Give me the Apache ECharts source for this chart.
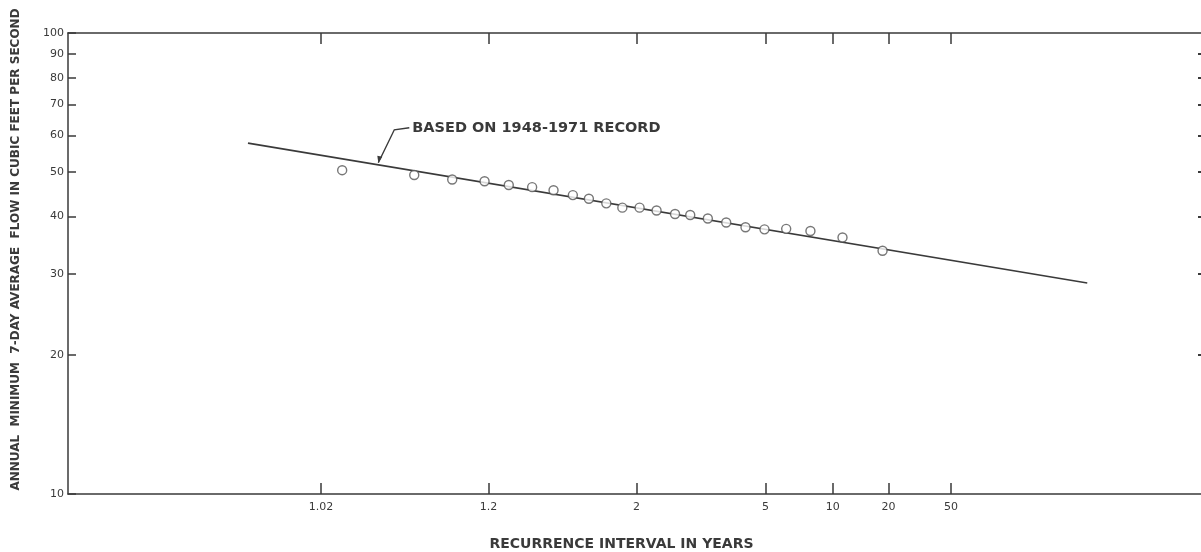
<!DOCTYPE html>
<html lang="en">
<head>
    <meta charset="UTF-8">
    <title>Recurrence interval of annual minimum 7-day flow</title>
    <script src="https://cdn.jsdelivr.net/npm/echarts@6/dist/echarts.min.js"></script>
    <style>
        * { margin: 0; padding: 0; box-sizing: border-box; }
        body { background: #fff; }
        #chart { width: 1201px; height: 552px; }
    </style>
</head>
<body>
    <div id="chart"></div>

    <script>
        // tick labels on the probability (recurrence interval) axis
        const xTickYears = [1.02, 1.2, 2, 5, 10, 20, 50];
        const xTickLabels = ['1.02', '1.2', '2', '5', '10', '20', '50'];
        // flow ticks on the log axis
        const yTickValues = [10, 20, 30, 40, 50, 60, 70, 80, 90, 100];
        const yTickLabels = ['10', '20', '30', '40', '50', '60', '70', '80', '90', '100'];

        // plotted points: recurrence interval (years) and flow (cfs)
        const pointYears = [1.028, 1.079, 1.129, 1.191, 1.253, 1.329, 1.416, 1.512, 1.607, 1.729, 1.862, 2.032,
                            2.232, 2.495, 2.755, 3.117, 3.583, 4.195, 4.958, 6.09, 7.81, 11.2, 18.5];
        const pointFlow = [50.4, 49.2, 48.1, 47.7, 46.8, 46.3, 45.6, 44.5, 43.7, 42.7, 41.8, 41.8,
                           41.2, 40.5, 40.3, 39.6, 38.8, 37.9, 37.5, 37.6, 37.2, 36.0, 33.7];

        // fitted line (based on 1948-1971 record)
        const lineYears = [1.0056, 617];
        const lineFlow = [57.7, 28.7];

        // where the note's leader touches the line
        const noteYears = 1.048;
        const noteFlow = 52.3;
        const noteText = 'BASED ON 1948-1971 RECORD';

        // inverse normal cdf (Acklam) - the paper is a normal probability scale
        function normInv(p) {
            const a = [-3.969683028665376e+01, 2.209460984245205e+02, -2.759285104469687e+02, 1.383577518672690e+02, -3.066479806614716e+01, 2.506628277459239e+00];
            const b = [-5.447609879822406e+01, 1.615858368580409e+02, -1.556989798598866e+02, 6.680131188771972e+01, -1.328068155288572e+01];
            const c = [-7.784894002430293e-03, -3.223964580411365e-01, -2.400758277161838e+00, -2.549732539343734e+00, 4.374664141464968e+00, 2.938163982698783e+00];
            const d = [7.784695709041462e-03, 3.224671290700398e-01, 2.445134137142996e+00, 3.754408661907416e+00];
            const pl = 0.02425;
            let q, r;
            if (p < pl) {
                q = Math.sqrt(-2 * Math.log(p));
                return (((((c[0] * q + c[1]) * q + c[2]) * q + c[3]) * q + c[4]) * q + c[5]) / ((((d[0] * q + d[1]) * q + d[2]) * q + d[3]) * q + 1);
            }
            if (p > 1 - pl) {
                q = Math.sqrt(-2 * Math.log(1 - p));
                return -(((((c[0] * q + c[1]) * q + c[2]) * q + c[3]) * q + c[4]) * q + c[5]) / ((((d[0] * q + d[1]) * q + d[2]) * q + d[3]) * q + 1);
            }
            q = p - 0.5;
            r = q * q;
            return (((((a[0] * r + a[1]) * r + a[2]) * r + a[3]) * r + a[4]) * r + a[5]) * q / (((((b[0] * r + b[1]) * r + b[2]) * r + b[3]) * r + b[4]) * r + 1);
        }
        const toX = t => normInv(1 - 1 / t);
        const toY = q => Math.log10(q);

        const xTickPos = xTickYears.map(toX);
        const yTickPos = yTickValues.map(toY);

        function xLabel(v) {
            for (let i = 0; i < xTickPos.length; i++) {
                if (Math.abs(xTickPos[i] - v) < 1e-6) return xTickLabels[i];
            }
            return '';
        }
        function yLabel(v) {
            for (let i = 0; i < yTickPos.length; i++) {
                if (Math.abs(yTickPos[i] - v) < 1e-6) return yTickLabels[i];
            }
            return '';
        }

        const ink = '#3a3a3a';
        const font = '"DejaVu Sans", sans-serif';

        const chart = echarts.init(document.getElementById('chart'));
        chart.setOption({
            animation: false,
            backgroundColor: '#fff',
            grid: { left: 68, top: 33, right: -2, bottom: 58, outerBoundsMode: 'none', containLabel: false },
            xAxis: [
                {
                    type: 'value',
                    position: 'bottom',
                    min: -3.714,
                    max: 3.70,
                    name: 'RECURRENCE INTERVAL IN YEARS',
                    nameLocation: 'middle',
                    nameGap: 43,
                    nameTextStyle: { color: ink, fontFamily: font, fontSize: 14, fontWeight: 'bold', padding: [0, 28, 0, 0] },
                    axisLine: { onZero: false, lineStyle: { color: ink, width: 1.5 } },
                    axisTick: { inside: true, length: 11, customValues: xTickPos, lineStyle: { color: ink, width: 1.5 } },
                    axisLabel: { customValues: xTickPos, formatter: xLabel, margin: 8, color: ink, fontFamily: font, fontSize: 11 },
                    splitLine: { show: false }
                },
                {
                    type: 'value',
                    position: 'top',
                    min: -3.714,
                    max: 3.70,
                    axisLine: { onZero: false, lineStyle: { color: ink, width: 1.5 } },
                    axisTick: { inside: true, length: 11, customValues: xTickPos, lineStyle: { color: ink, width: 1.5 } },
                    axisLabel: { show: false },
                    splitLine: { show: false }
                }
            ],
            yAxis: [
                {
                    type: 'value',
                    position: 'left',
                    min: 1,
                    max: 2,
                    name: 'ANNUAL  MINIMUM  7-DAY AVERAGE  FLOW IN CUBIC FEET PER SECOND',
                    nameLocation: 'middle',
                    nameRotate: 90,
                    nameGap: 46,
                    nameTextStyle: { color: ink, fontFamily: font, fontSize: 12, fontWeight: 'bold', padding: [0, 0, 0, 28] },
                    axisLine: { onZero: false, lineStyle: { color: ink, width: 1.5 } },
                    axisTick: { inside: true, length: 8, customValues: yTickPos, lineStyle: { color: ink, width: 1.5 } },
                    axisLabel: { customValues: yTickPos, formatter: yLabel, margin: 4, color: ink, fontFamily: font, fontSize: 11 },
                    splitLine: { show: false }
                },
                {
                    type: 'value',
                    position: 'right',
                    min: 1,
                    max: 2,
                    axisLine: { onZero: false, lineStyle: { color: ink, width: 1.5 } },
                    axisTick: { inside: true, length: 5, customValues: yTickPos.slice(1, -1), lineStyle: { color: ink, width: 2 } },
                    axisLabel: { show: false },
                    splitLine: { show: false }
                }
            ],
            series: [
                {
                    type: 'line',
                    data: lineYears.map((t, i) => [toX(t), toY(lineFlow[i])]),
                    symbol: 'none',
                    lineStyle: { color: ink, width: 1.6 },
                    z: 2
                },
                {
                    type: 'scatter',
                    data: pointYears.map((t, i) => [toX(t), toY(pointFlow[i])]),
                    symbol: 'circle',
                    symbolSize: 9,
                    itemStyle: { color: '#fff', borderColor: '#555', borderWidth: 1.4 },
                    z: 3
                }
            ]
        });

        // leader and note, anchored to the line through the axes
        const tip = chart.convertToPixel({ gridIndex: 0 }, [toX(noteYears), toY(noteFlow)]);
        const bend = [tip[0] + 16, tip[1] - 33];
        const end = [tip[0] + 31, tip[1] - 35];
        chart.setOption({
            graphic: [
                {
                    type: 'polyline',
                    shape: { points: [tip, bend, end] },
                    style: { stroke: ink, lineWidth: 1.4, fill: null },
                    z: 10
                },
                {
                    type: 'polygon',
                    shape: { points: [[tip[0], tip[1]], [tip[0] - 1, tip[1] - 7], [tip[0] + 4, tip[1] - 6]] },
                    style: { fill: ink },
                    z: 10
                },
                {
                    type: 'text',
                    x: end[0] + 3,
                    y: end[1],
                    style: {
                        text: noteText,
                        fill: ink,
                        font: 'bold 14.5px "DejaVu Sans", sans-serif',
                        verticalAlign: 'middle',
                        align: 'left'
                    },
                    z: 10
                }
            ]
        });

        window.addEventListener('resize', function () {
            chart.resize();
        });
    </script>
</body>
</html>
